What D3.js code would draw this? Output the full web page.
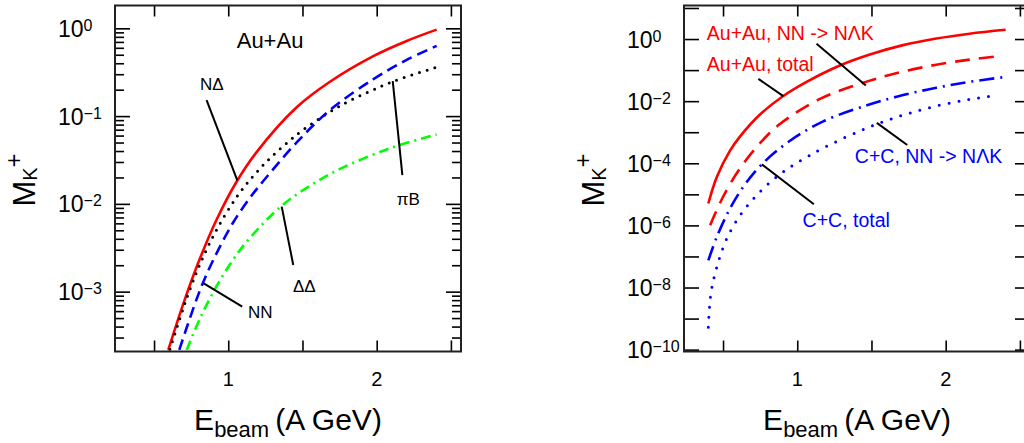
<!DOCTYPE html>
<html>
<head>
<meta charset="utf-8">
<script src="https://cdn.jsdelivr.net/npm/d3@7/dist/d3.min.js"></script>
<style>
  body { margin: 0; background: #fff; }
  svg { display: block; font-family: "Liberation Sans", Arial, sans-serif; }
</style>
</head>
<body>
<svg id="chart" width="1024" height="443"></svg>
<script>
// ---- values ----
const xTicks   = [0.5, 1, 1.5, 2, 2.5];
const xLabels  = [1, 2];
const leftYLabels  = [1e-3, 1e-2, 1e-1, 1];
const rightYTicks  = [1e-10, 1e-9, 1e-8, 1e-7, 1e-6, 1e-5, 1e-4, 1e-3, 1e-2, 1e-1, 1, 10];
const rightYLabels = [1e-10, 1e-8, 1e-6, 1e-4, 1e-2, 1];

// left panel, Au+Au channels
const ndE = [0.596, 0.697, 0.809, 0.922, 1.052, 1.191, 1.461, 1.685, 1.977, 2.202, 2.404];
const ndM = [2.17e-4, 7.26e-4, 2.38e-3, 6.64e-3, 1.74e-2, 3.89e-2, 0.126, 0.246, 0.482, 0.718, 0.966];
const nnE = [0.670, 0.764, 0.832, 0.922, 1.034, 1.146, 1.236, 1.461, 1.685, 1.977, 2.202, 2.404];
const nnM = [2.17e-4, 6.40e-4, 1.29e-3, 2.75e-3, 6.17e-3, 1.17e-2, 1.82e-2, 5.01e-2, 0.117, 0.263, 0.437, 0.631];
const piBE = [0.607, 0.686, 0.730, 0.809, 0.922, 1.057, 1.168, 1.270, 1.382, 1.505, 1.753, 2.034, 2.179, 2.400];
const piBM = [2.21e-4, 5.69e-4, 9.35e-4, 2.05e-3, 5.09e-3, 1.20e-2, 2.07e-2, 3.17e-2, 4.73e-2, 6.98e-2, 0.131, 0.220, 0.273, 0.359];
const ddE = [0.720, 0.809, 0.922, 1.034, 1.146, 1.360, 1.551, 1.753, 2.090, 2.404];
const ddM = [2.17e-4, 4.92e-4, 1.16e-3, 2.33e-3, 4.10e-3, 9.48e-3, 1.61e-2, 2.50e-2, 4.31e-2, 6.18e-2];

// right panel, Au+Au and C+C
const auTotE = [0.401, 0.458, 0.547, 0.615, 0.749, 0.906, 1.063, 1.287, 1.489, 1.713, 1.937, 2.161, 2.404];
const auTotM = [5.06e-6, 3.62e-5, 2.54e-4, 7.36e-4, 3.72e-3, 1.47e-2, 4.19e-2, 0.141, 0.318, 0.637, 1.04, 1.49, 1.98];
const auNNE = [0.413, 0.502, 0.615, 0.749, 0.883, 1.153, 1.489, 1.713, 1.937, 2.161, 2.352];
const auNNM = [1.01e-6, 8.69e-6, 6.97e-5, 4.44e-4, 1.83e-3, 1.18e-2, 4.58e-2, 8.95e-2, 0.149, 0.218, 0.279];
const ccTotE = [0.401, 0.458, 0.547, 0.637, 0.761, 0.951, 1.175, 1.475, 1.713, 1.937, 2.161, 2.404];
const ccTotM = [7.48e-8, 4.23e-7, 3.49e-6, 1.76e-5, 9.20e-5, 5.30e-4, 2.24e-3, 7.52e-3, 1.57e-2, 2.70e-2, 4.19e-2, 6.03e-2];
const ccNNE = [0.401, 0.418, 0.458, 0.525, 0.615, 0.727, 0.861, 0.996, 1.175, 1.467, 1.713, 1.937, 2.161, 2.352];
const ccNNM = [5.25e-10, 6.30e-9, 4.54e-8, 3.75e-7, 2.12e-6, 9.38e-6, 3.66e-5, 1.02e-4, 3.10e-4, 1.36e-3, 3.56e-3, 6.97e-3, 1.14e-2, 1.56e-2];

// annotations: [label, textE, textM, fromE, fromM, toE, toM, colour]
const leftNotes = [
  ["NΔ", 0.81, 0.198, 0.854, 0.152, 1.061, 0.0185],
  ["NN", 1.133, 5.0e-4, 0.832, 1.25e-3, 1.094, 6.75e-4],
  ["ΔΔ", 1.436, 9.9e-4, 1.360, 9.3e-3, 1.438, 2.01e-3],
  ["πB", 2.135, 9.7e-3, 2.108, 0.251, 2.173, 0.0213]
];
const rightNotes = [
  ["Au+Au, NN -> NΛK", 0.391, 0.95, 1.130, 0.705, 1.462, 0.0318, "#ff0000"],
  ["Au+Au, total", 0.391, 0.0947, 0.738, 0.0523, 0.906, 0.0145, "#ff0000"],
  ["C+C, NN -> NΛK", 1.388, 9.9e-5, 1.536, 2.0e-3, 1.741, 3.86e-4, "#0000ff"],
  ["C+C, total", 1.036, 8.9e-7, 0.761, 9.2e-5, 1.112, 4.8e-6, "#0000ff"]
];

const svg = d3.select("#chart");

const zip = (es, ms) => es.map((e, i) => [e, ms[i]]);
const supText = v => {
  const p = Math.round(Math.log10(v));
  return p < 0 ? "\u2212" + (-p) : String(p);
};

function drawPanel(cfg) {
  const x = d3.scaleLinear().domain([0.237, 2.568]).range([cfg.left, cfg.left + 346]);
  const y = d3.scaleLog().domain(cfg.yDomain).range([351.5, 5.5]);
  const g = svg.append("g");

  const clipId = "clip" + cfg.left;
  svg.append("clipPath").attr("id", clipId)
    .append("rect")
      .attr("x", x.range()[0]).attr("y", 5.5)
      .attr("width", 346).attr("height", 346);

  // tick marks, inward on all four sides
  const axes = [
    [d3.axisBottom(x).tickValues(xTicks).tickSize(-11), `translate(0,351.5)`],
    [d3.axisTop(x).tickValues(xTicks).tickSize(-11), `translate(0,5.5)`],
    [d3.axisLeft(y).tickValues(cfg.major).tickSize(-15), `translate(${x.range()[0]},0)`],
    [d3.axisRight(y).tickValues(cfg.major).tickSize(-15), `translate(${x.range()[1]},0)`]
  ];
  if (cfg.minor.length) {
    axes.push([d3.axisLeft(y).tickValues(cfg.minor).tickSize(-9), `translate(${x.range()[0]},0)`]);
    axes.push([d3.axisRight(y).tickValues(cfg.minor).tickSize(-9), `translate(${x.range()[1]},0)`]);
  }
  axes.forEach(([ax, tr]) => {
    const a = g.append("g").attr("transform", tr).call(ax.tickFormat(""));
    a.select(".domain").remove();
    a.selectAll("line").attr("stroke", "#000").attr("stroke-width", 1.6);
  });

  g.append("rect")
    .attr("x", x.range()[0]).attr("y", 5.5)
    .attr("width", 346).attr("height", 346)
    .attr("fill", "none").attr("stroke", "#222").attr("stroke-width", 2);

  // x tick labels
  g.selectAll("text.xl").data(xLabels).enter().append("text")
    .attr("x", d => x(d)).attr("y", 386)
    .attr("text-anchor", "middle").attr("font-size", 20)
    .text(d => d);

  // y tick labels 10^n
  const yl = g.selectAll("text.yl").data(cfg.labels).enter().append("text")
    .attr("x", cfg.labelX).attr("y", d => y(d) + 8.5)
    .attr("font-size", 23);
  yl.append("tspan").text("10");
  yl.append("tspan").attr("dy", -6).attr("font-size", 16).text(d => supText(d));

  // axis titles
  const cx = x.range()[0] + 173;
  const xt = g.append("text").attr("x", cx).attr("y", 430)
    .attr("text-anchor", "middle").attr("font-size", 30);
  xt.append("tspan").text("E");
  xt.append("tspan").attr("font-size", 22).attr("dy", 7).text("beam");
  xt.append("tspan").attr("dy", -7).attr("dx", 6).text("(A GeV)");

  const yt = g.append("text")
    .attr("transform", `translate(${cfg.titleX},180) rotate(-90)`)
    .attr("text-anchor", "middle").attr("font-size", 31);
  yt.append("tspan").text("M");
  yt.append("tspan").attr("font-size", 20).attr("dy", 2).text("K");
  yt.append("tspan").attr("font-size", 24).attr("dy", -15).text("+");

  // curves
  const line = d3.line().x(d => x(d[0])).y(d => y(d[1])).curve(d3.curveCatmullRom.alpha(0.5));
  const plot = g.append("g").attr("clip-path", `url(#${clipId})`);
  cfg.series.forEach(s => {
    plot.append("path")
      .attr("d", line(zip(s.e, s.m)))
      .attr("fill", "none")
      .attr("stroke", s.color)
      .attr("stroke-width", s.width)
      .attr("stroke-linecap", s.cap || "butt")
      .attr("stroke-dasharray", s.dash || null);
  });

  // annotations
  cfg.notes.forEach(n => {
    g.append("line")
      .attr("x1", x(n[3])).attr("y1", y(n[4]))
      .attr("x2", x(n[5])).attr("y2", y(n[6]))
      .attr("stroke", "#000").attr("stroke-width", 2);
    g.append("text")
      .attr("x", x(n[1])).attr("y", y(n[2]))
      .attr("font-size", cfg.noteSize)
      .attr("fill", n[7] || "#000")
      .text(n[0]);
  });
  if (cfg.title) {
    g.append("text").attr("x", x(1.057)).attr("y", y(0.592))
      .attr("font-size", 22).text(cfg.title);
  }
}

drawPanel({
  left: 115,
  yDomain: [2.08e-4, 1.82],
  major: leftYLabels,
  minor: d3.scaleLog().domain([2.08e-4, 1.82]).ticks()
    .filter(v => !leftYLabels.some(m => Math.abs(m - v) / m < 1e-6)),
  labels: leftYLabels,
  labelX: 58,
  titleX: 35,
  noteSize: 17,
  title: "Au+Au",
  series: [
    { e: ndE, m: ndM, color: "#ff0000", width: 2.6 },
    { e: piBE, m: piBM, color: "#000", width: 3, dash: "0,8", cap: "round" },
    { e: nnE, m: nnM, color: "#0000ff", width: 2.6, dash: "11,6" },
    { e: ddE, m: ddM, color: "#00ff00", width: 2.6, dash: "10,5,2,5" }
  ],
  notes: leftNotes
});

drawPanel({
  left: 684,
  yDomain: [Math.pow(10, -10.06), Math.pow(10, 1.08)],
  major: rightYTicks,
  minor: [],
  labels: rightYLabels,
  labelX: 627,
  titleX: 604,
  noteSize: 19.5,
  series: [
    { e: auTotE, m: auTotM, color: "#ff0000", width: 2.6 },
    { e: auNNE, m: auNNM, color: "#ff0000", width: 2.6, dash: "15,9" },
    { e: ccTotE, m: ccTotM, color: "#0000ff", width: 2.6, dash: "15,6,2,6" },
    { e: ccNNE, m: ccNNM, color: "#0000ff", width: 3, dash: "0,10", cap: "round" }
  ],
  notes: rightNotes
});
</script>
</body>
</html>
